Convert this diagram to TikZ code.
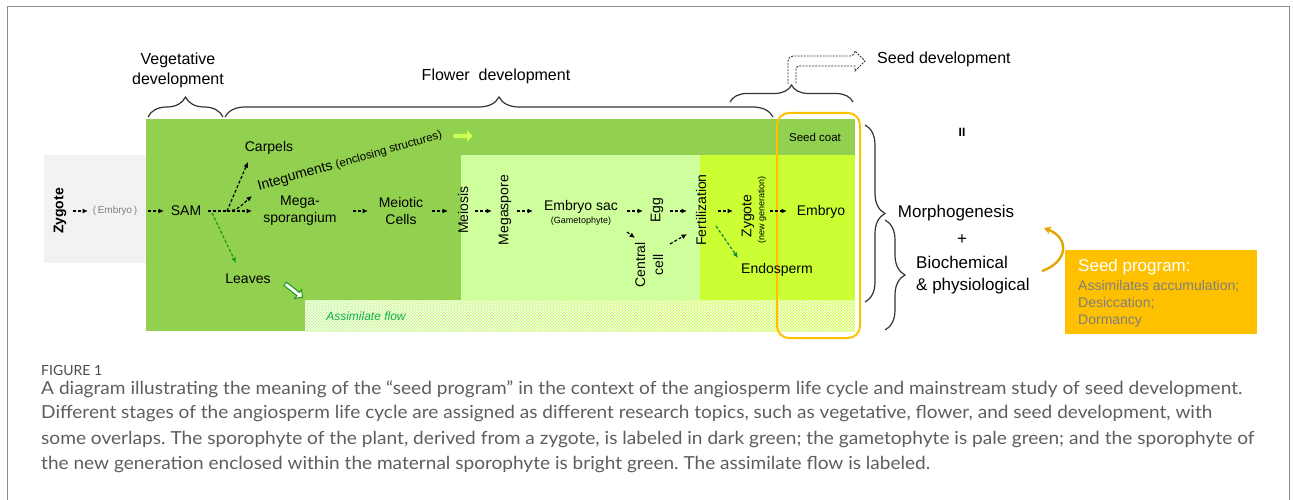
\documentclass[tikz,border=0pt]{standalone}
\usepackage{fontspec}
\usepackage{graphicx}
\setmainfont{Liberation Sans}
\newfontfamily\capfont{Lato}
\usetikzlibrary{arrows.meta,decorations.pathreplacing,shapes.arrows,patterns}
\definecolor{dkgreen}{HTML}{92D050}
\definecolor{palegreen}{HTML}{CFFF9C}
\definecolor{brgreen}{HTML}{CCFF33}
\definecolor{graybg}{HTML}{F2F2F2}
\definecolor{orng}{HTML}{FFC000}
\definecolor{gold}{HTML}{E3A600}
\definecolor{capgray}{HTML}{5E5E5E}
\definecolor{flowgreen}{HTML}{12B050}
\definecolor{lvgreen}{HTML}{1E961E}
\definecolor{spgray}{HTML}{7F7F7F}
\newcommand{\capline}[2]{\resizebox{#1pt}{\height}{#2}}
\begin{document}
\frenchspacing
\begin{tikzpicture}[x=1pt,y=-1pt,
  lbl/.style={inner sep=1pt, font=\fontsize{14}{17}\selectfont, align=center},
  vlbl/.style={lbl, rotate=90},
  small/.style={inner sep=1pt, font=\fontsize{9}{10}\selectfont},
  toplbl/.style={inner sep=1pt, font=\fontsize{16}{20}\selectfont, align=center},
  rlbl/.style={inner sep=1pt, font=\fontsize{17}{22}\selectfont},
  darr/.style={-{Latex[length=5.5pt,width=5pt]}, dash pattern=on 3pt off 2pt, line width=1.2pt},
  garr/.style={darr, draw=lvgreen},
  brc/.style={decorate, decoration={brace, amplitude=#1}, line width=1.2pt, draw=black!80},
  caption/.style={anchor=west, inner sep=0pt, text=capgray, font=\capfont\fontsize{18}{20}\selectfont},
  sptext/.style={anchor=west, inner sep=0pt, text=spgray, font=\fontsize{14}{16}\selectfont}
]
\useasboundingbox (0,0) rectangle (1293,500);
\fill[white] (0,0) rectangle (1293,500);
% frame
\draw[black!45, line width=1pt] (7,500) -- (7,7) -- (1289,7) -- (1289,500);

% background regions
\fill[graybg] (44,155) rectangle (146,263);
\fill[dkgreen] (146,119) rectangle (855,331);
\fill[palegreen] (461,155) rectangle (700,300);
\fill[brgreen] (700,155) rectangle (855,300);
\shade[left color=palegreen!80!dkgreen, right color=brgreen] (305,300) rectangle (855,331);
\fill[pattern=crosshatch, pattern color=white, fill opacity=0.12] (305,300) rectangle (855,331);
\draw[orng, line width=2pt, rounded corners=12pt] (777,113) rectangle (860,338);

% top labels and braces
\node[toplbl] (veg) at (178,70) {Vegetative\\development};
\node[toplbl] (flow) at (496,76) {Flower\ \ development};
\node[toplbl, anchor=west] (seeddev) at (876,59) {Seed development};
\draw[brc=20pt] (148,117) -- (223,117);
\draw[brc=20pt] (225,117) -- (773,117);
\draw[brc=17pt] (730,102) -- (853,102);
\draw[black!80, line width=0.9pt, dash pattern=on 2pt off 1.2pt, rounded corners=5pt]
  (788,84) -- (788,56) -- (855,56) [sharp corners] -- (855,51) -- (865,61) -- (855,71) -- (855,66)
  [rounded corners=3pt] -- (796,66) [sharp corners] -- (796,84);

% right braces
\draw[brc=20pt] (865,125) -- (865,302);
\draw[brc=20pt] (885,220) -- (885,330);

% main row nodes
\node[vlbl, font=\bfseries\fontsize{14}{17}\selectfont] (zyg) at (60,211) {Zygote};
\node[small, text=black!50, font=\fontsize{10}{11}\selectfont] (emb0) at (115,211) {(\,Embryo\,)};
\node[lbl] (sam) at (186,211) {SAM};
\coordinate (j) at (227,211);
\node[lbl] (carp) at (269,148) {Carpels};
\node[lbl, inner sep=0pt, rotate=16] (integ) at (350,161) {Integuments {\fontsize{11.5}{12}\selectfont(enclosing structures)}};
\node[lbl] (mega) at (300,211) {Mega-\\sporangium};
\node[lbl] (meio) at (401,211) {Meiotic\\Cells};
\node[vlbl] (meiosis) at (463,210) {Meiosis};
\node[vlbl] (megasp) at (505,210) {Megaspore};
\node[lbl] (esac) at (581,207) {Embryo sac};
\node[small] (gam) at (581,221) {(Gametophyte)};
\node[vlbl] (egg) at (657,210) {Egg};
\node[vlbl] (cc) at (649,265) {Central\\[1pt]cell};
\node[vlbl] (fert) at (701,210) {Fertilization};
\node[vlbl] (zyg2) at (748,216) {Zygote};
\node[small, rotate=90] (ng) at (762,210) {(new generation)};
\node[lbl] (embryo) at (821,212) {Embryo};
\node[lbl] (endo) at (777,270) {Endosperm};
\node[lbl] (leaves) at (248,279) {Leaves};
\node[inner sep=0pt, font=\fontsize{11.5}{13}\selectfont] (coat) at (815,137) {Seed coat};
\node[inner sep=0pt, text=flowgreen, font=\itshape\fontsize{12}{14}\selectfont] (aflow) at (366,316) {Assimilate flow};

% flow arrows (block)
\node[single arrow, fill=white, draw=lvgreen, line width=1pt, minimum height=22pt, minimum width=11pt,
      single arrow head extend=2.5pt, inner sep=1pt, rotate=-38] (wa) at (293,290) {};
\node[single arrow, fill=brgreen!70!palegreen, draw=none, minimum height=19pt, minimum width=11pt,
      single arrow head extend=2pt, inner sep=1pt] (ya) at (462,136) {};

% connectors
\draw[darr] ([shift={(13,0)}]zyg.center) -- ([shift={(-27,0)}]emb0.center);
\draw[darr] ([shift={(33,0)}]emb0.center) -- ([shift={(-22,0)}]sam.center);
\draw[dash pattern=on 3pt off 2pt, line width=1.2pt] ([shift={(22,0)}]sam.center) -- (j);
\draw[darr] (j) -- ([shift={(-21,14)}]carp.center);
\draw[darr] (j) to[out=0, in=220] ([shift={(-98,35)}]integ.center);
\draw[darr] (j) -- ([shift={(-48,0)}]mega.center);
\draw[garr] ([shift={(26,2)}]sam.center) -- ([shift={(-12,-16)}]leaves.center);
\draw[darr] ([shift={(53,0)}]mega.center) -- ([shift={(-33,0)}]meio.center);
\draw[darr] ([shift={(31,0)}]meio.center) -- ([shift={(-15,1)}]meiosis.center);
\draw[darr] ([shift={(12,1)}]meiosis.center) -- ([shift={(-13,1)}]megasp.center);
\draw[darr] ([shift={(12,1)}]megasp.center) -- ([shift={(-48,4)}]esac.center);
\draw[darr] ([shift={(46,4)}]esac.center) -- ([shift={(-14,1)}]egg.center);
\draw[darr] ([shift={(46,25)}]esac.center) -- ([shift={(-14,-27)}]cc.center);
\draw[darr] ([shift={(13,1)}]egg.center) -- ([shift={(-14,1)}]fert.center);
\draw[darr] ([shift={(21,-21)}]cc.center) -- ([shift={(-14,24)}]fert.center);
\draw[darr, draw=flowgreen!80!black] ([shift={(15,16)}]fert.center) -- ([shift={(-39,-12)}]endo.center);
\draw[darr] ([shift={(17,1)}]fert.center) -- ([shift={(-15,-5)}]zyg2.center);
\draw[darr] ([shift={(8,1)}]ng.center) -- ([shift={(-34,-1)}]embryo.center);

% right side
\node[inner sep=0pt, font=\bfseries\fontsize{12}{13}\selectfont] (ii) at (962,132) {II};
\node[rlbl] (morph) at (956,213) {Morphogenesis};
\node[rlbl] (plus) at (962,240) {+};
\node[rlbl, anchor=west, align=left] (bio) at (915,275) {Biochemical\\\& physiological};
\node[fill=orng, minimum width=192pt, minimum height=84pt, anchor=north west, inner sep=0pt] (sp) at (1065,250) {};
\node[anchor=west, inner sep=0pt, text=white, font=\fontsize{17}{19}\selectfont] (sp1) at (1078,267) {Seed program:};
\node[sptext] (sp2) at (1078,286) {Assimilates accumulation;};
\node[sptext] (sp3) at (1078,303) {Desiccation;};
\node[sptext] (sp4) at (1078,321) {Dormancy};
\coordinate (ca) at (1042,271);
\coordinate (cb) at (1044,228);
\draw[gold, line width=2.4pt, -{Stealth[length=7pt,width=8pt]}] (ca) .. controls (1068,262) and (1070,238) .. (cb);

% caption
\node[anchor=west, inner sep=0pt, text=black!70, font=\capfont\fontsize{14}{16}\selectfont] (fig) at (41,370) {FIGURE 1};
\node[caption] (c1) at (41,389) {\capline{1201}{A diagram illustrating the meaning of the “seed program” in the context of the angiosperm life cycle and mainstream study of seed development.}};
\node[caption] (c2) at (41,414) {\capline{1171}{Different stages of the angiosperm life cycle are assigned as different research topics, such as vegetative, flower, and seed development, with}};
\node[caption] (c3) at (41,440) {\capline{1213}{some overlaps. The sporophyte of the plant, derived from a zygote, is labeled in dark green; the gametophyte is pale green; and the sporophyte of}};
\node[caption] (c4) at (41,465) {\capline{889}{the new generation enclosed within the maternal sporophyte is bright green. The assimilate flow is labeled.}};
\end{tikzpicture}
\end{document}
